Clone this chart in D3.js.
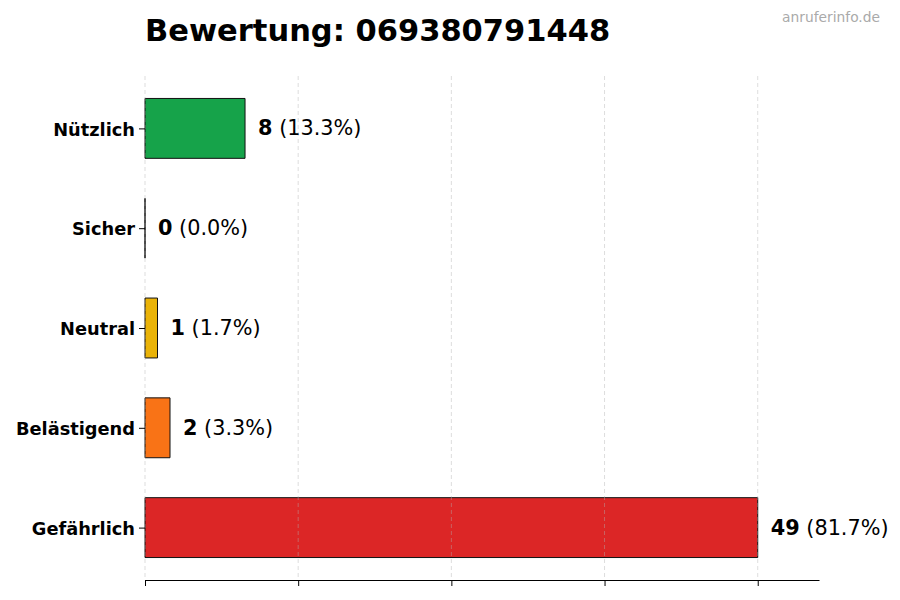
<!DOCTYPE html>
<html>
<head>
<meta charset="utf-8">
<script src="https://cdn.jsdelivr.net/npm/d3@7"></script>
<style>
  body { margin: 0; background: #fff; }
  text { font-family: "DejaVu Sans", sans-serif; }
</style>
</head>
<body>
<script>
// chart data
const categories = ["Nützlich", "Sicher", "Neutral", "Belästigend", "Gefährlich"];
const counts = [8, 0, 1, 2, 49];
const percents = ["13.3%", "0.0%", "1.7%", "3.3%", "81.7%"];
const barColors = ["#16a34a", "#9ca3af", "#eab308", "#f97316", "#dc2626"];
const gridTicks = [0, 12.25, 24.5, 36.75, 49];
const titleText = "Bewertung: 069380791448";
const watermark = "anruferinfo.de";

const width = 900, height = 600;
const plotLeft = 145, plotRight = 819, plotTop = 76, plotBottom = 580;

const svg = d3.select("body")
    .append("svg")
    .attr("width", width)
    .attr("height", height);

const x = d3.scaleLinear()
    .domain([0, d3.max(counts) * 1.1])
    .range([plotLeft, plotRight]);

const y = d3.scaleLinear()
    .domain([-0.525, categories.length - 0.475])
    .range([plotTop, plotBottom]);

const barH = y(0.3) - y(0);

// bars as paths so a zero-width bar still shows its outline
svg.append("g")
    .selectAll("path")
    .data(counts)
    .enter()
    .append("path")
    .attr("d", (d, i) => {
        const w = x(d) - x(0);
        return `M${x(0)},${y(i) - barH}h${w}v${barH * 2}h${-w}Z`;
    })
    .attr("fill", (d, i) => barColors[i])
    .attr("stroke", "#111")
    .attr("stroke-width", 1);

// grid lines (drawn over the bars like the original)
svg.append("g")
    .selectAll("line")
    .data(gridTicks)
    .enter()
    .append("line")
    .attr("x1", d => x(d))
    .attr("x2", d => x(d))
    .attr("y1", plotTop)
    .attr("y2", plotBottom)
    .attr("stroke", "#b0b0b0")
    .attr("stroke-opacity", 0.55)
    .attr("stroke-width", 0.8)
    .attr("stroke-dasharray", "4,3");

// bottom axis, labels hidden
const xAxis = svg.append("g")
    .attr("transform", `translate(0,${plotBottom})`)
    .call(d3.axisBottom(x).tickValues(gridTicks).tickSizeInner(6).tickSizeOuter(0).tickFormat(""));
xAxis.select(".domain").attr("stroke", "#000").attr("stroke-width", 1.1);
xAxis.selectAll(".tick line").attr("stroke", "#000").attr("stroke-width", 1);

// left axis: ticks and bold category labels, no spine
const yAxis = svg.append("g")
    .attr("transform", `translate(${plotLeft},0)`)
    .call(d3.axisLeft(y).tickValues(d3.range(categories.length))
        .tickSize(6).tickPadding(4).tickFormat(i => categories[i]));
yAxis.select(".domain").remove();
yAxis.selectAll(".tick line").attr("stroke", "#000");
yAxis.selectAll(".tick text")
    .attr("fill", "#000")
    .attr("font-family", "DejaVu Sans, sans-serif")
    .attr("font-size", 17.8)
    .attr("font-weight", "bold")
    .attr("dy", "0.38em");

// value labels
const labels = svg.append("g")
    .selectAll("text")
    .data(counts)
    .enter()
    .append("text")
    .attr("x", d => x(d) + 13)
    .attr("y", (d, i) => y(i))
    .attr("dominant-baseline", "central")
    .attr("font-size", 20.8)
    .attr("fill", "#000");
labels.append("tspan")
    .attr("font-weight", "bold")
    .text(d => d);
labels.append("tspan")
    .text((d, i) => " (" + percents[i] + ")");

// title
svg.append("text")
    .attr("x", plotLeft)
    .attr("y", 41)
    .attr("font-size", 30.5)
    .attr("font-weight", "bold")
    .attr("fill", "#000")
    .text(titleText);

// watermark
svg.append("text")
    .attr("x", 880)
    .attr("y", 22)
    .attr("text-anchor", "end")
    .attr("font-size", 13.8)
    .attr("fill", "#aaaaaa")
    .text(watermark);
</script>
</body>
</html>
